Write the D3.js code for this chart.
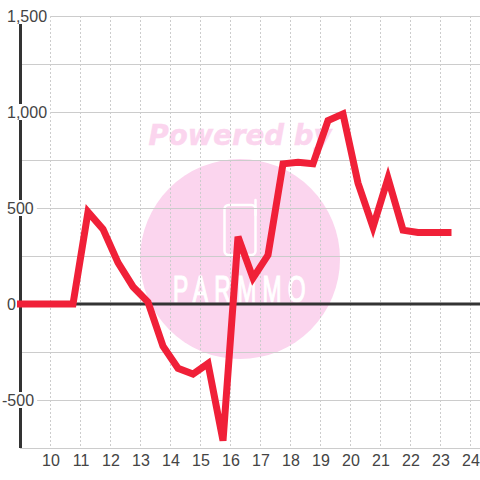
<!DOCTYPE html>
<html>
<head>
<meta charset="utf-8">
<script src="https://cdn.jsdelivr.net/npm/d3@7"></script>
<style>
  html, body { margin: 0; padding: 0; background: #fff; }
  svg { display: block; }
  .tick-label { font-family: "Liberation Sans", sans-serif; font-size: 16px; fill: #444; }
</style>
</head>
<body>
<svg id="chart"></svg>
<script>
var width = 480;
var height = 480;

var hours = [9, 9.25, 9.75, 10.25, 10.75, 11.25, 11.75, 12.25, 12.75, 13.25, 13.75, 14.25, 14.75, 15.25, 15.75, 16.25, 16.75, 17.25, 17.75, 18.25, 18.75, 19.25, 19.75, 20.25, 20.75, 21.25, 21.75, 22.25, 22.75, 23.25];
var values = [0, 0, 0, 0, 0, 480, 390, 215, 90, 10, -220, -335, -365, -310, -712, 350, 135, 255, 730, 738, 730, 955, 990, 630, 400, 655, 385, 372, 372, 372];
var xTicks = [10, 11, 12, 13, 14, 15, 16, 17, 18, 19, 20, 21, 22, 23, 24];
var yLabelled = [1500, 1000, 500, 0, -500];
var yGrid = [1500, 1250, 1000, 750, 500, 250, 0, -250, -500, -750];

var xScale = d3.scaleLinear().domain([9, 24]).range([20.5, 470.5]);
var yScale = d3.scaleLinear().domain([-750, 1500]).range([448, 16]);

var svg = d3.select("svg#chart").attr("width", width).attr("height", height);

// Watermark sits under the grid
var mark = svg.append("g").attr("class", "watermark");
mark.append("circle").attr("cx", 240).attr("cy", 259).attr("r", 100).attr("fill", "#fbd5ee");
mark.append("text")
  .attr("x", 240).attr("y", 145)
  .attr("text-anchor", "middle")
  .style("font-family", "'DejaVu Sans'")
  .style("font-weight", "bold")
  .style("font-style", "italic")
  .style("font-size", "28px")
  .attr("textLength", 183)
  .attr("lengthAdjust", "spacingAndGlyphs")
  .attr("fill", "#fbd5ee")
  .attr("stroke", "#fbd5ee")
  .attr("stroke-width", 0.5)
  .text("Powered by");
mark.append("rect")
  .attr("x", 224.5).attr("y", 205).attr("width", 31).attr("height", 50).attr("rx", 4)
  .attr("fill", "none").attr("stroke", "#fff").attr("stroke-width", 2.5);
mark.append("line")
  .attr("x1", 255.5).attr("x2", 255.5).attr("y1", 200).attr("y2", 215)
  .attr("stroke", "#fff").attr("stroke-width", 2.5).attr("stroke-linecap", "round");
mark.append("text")
  .attr("transform", "translate(173,302) scale(0.62,1)")
  .style("font-family", "'Liberation Sans'")
  .style("font-size", "37px")
  .attr("textLength", 214)
  .attr("lengthAdjust", "spacing")
  .attr("fill", "#fff")
  .attr("stroke", "#fff")
  .attr("stroke-width", 1.2)
  .text("PARMMO");

// Grid lines
svg.selectAll("line.vgrid")
  .data(xTicks)
  .enter()
  .append("line")
  .attr("class", "vgrid")
  .attr("x1", function(d) { return xScale(d); })
  .attr("x2", function(d) { return xScale(d); })
  .attr("y1", yScale(1500))
  .attr("y2", yScale(-750))
  .attr("stroke", "#ccc")
  .attr("stroke-dasharray", "2,2");

svg.selectAll("line.hgrid")
  .data(yGrid)
  .enter()
  .append("line")
  .attr("class", "hgrid")
  .attr("x1", 20)
  .attr("x2", width)
  .attr("y1", function(d) { return Math.round(yScale(d)) + 0.5; })
  .attr("y2", function(d) { return Math.round(yScale(d)) + 0.5; })
  .attr("stroke", "#ccc");

// Axis lines
svg.append("line")
  .attr("x1", xScale(9)).attr("x2", xScale(9))
  .attr("y1", 24).attr("y2", 448)
  .attr("stroke", "#333").attr("stroke-width", 3);
svg.append("line")
  .attr("x1", xScale(9)).attr("x2", width)
  .attr("y1", yScale(0)).attr("y2", yScale(0))
  .attr("stroke", "#333").attr("stroke-width", 3);

// Y labels knock out the axis and grid behind them
var yLabels = svg.selectAll("g.ylabel")
  .data(yLabelled)
  .enter()
  .append("g")
  .attr("class", "ylabel")
  .attr("transform", function(d) { return "translate(7," + yScale(d) + ")"; });

yLabels.append("text")
  .attr("class", "tick-label")
  .attr("y", 5.5)
  .attr("x", function(d) { return d < 0 ? -5 : 0; })
  .text(function(d) { return d3.format(",")(d).replace("\u2212", "-"); });

yLabels.insert("rect", "text")
  .attr("x", function() { return this.parentNode.querySelector("text").getBBox().x - 1; })
  .attr("y", -8)
  .attr("height", 16)
  .attr("width", function() { return this.parentNode.querySelector("text").getBBox().width + 4; })
  .attr("fill", "#fff");

svg.selectAll("text.xlabel")
  .data(xTicks)
  .enter()
  .append("text")
  .attr("class", "tick-label xlabel")
  .attr("x", function(d) { return xScale(d) + 0.5; })
  .attr("y", 466)
  .attr("text-anchor", "middle")
  .text(function(d) { return d; });

var line = d3.line()
  .x(function(d, i) { return xScale(hours[i]); })
  .y(function(d) { return yScale(d); });

svg.append("path")
  .attr("d", line(values))
  .attr("fill", "none")
  .attr("stroke", "#f02038")
  .attr("stroke-width", 7)
  .attr("stroke-linecap", "square")
  .attr("stroke-linejoin", "miter");
</script>
</body>
</html>
